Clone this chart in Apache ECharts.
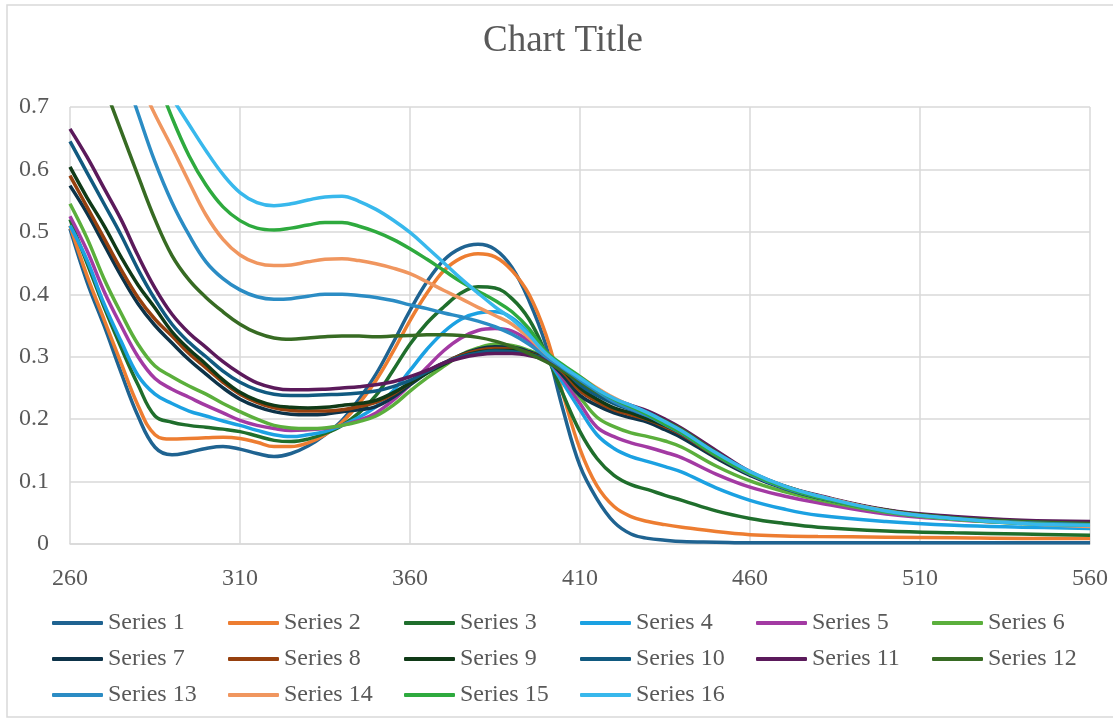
<!DOCTYPE html>
<html><head><meta charset="utf-8">
<script src="https://cdn.jsdelivr.net/npm/echarts@6/dist/echarts.min.js"></script>
<style>html,body{margin:0;padding:0;background:#fff}#c{width:1113px;height:719px}</style>
</head><body><div id="c"></div><script>
const xs=[260,265,270,275,280,285,290,295,300,305,310,315,320,325,330,335,340,345,350,355,360,365,370,375,380,385,390,395,400,405,410,415,420,425,430,435,440,450,460,470,480,500,520,540,560];
const s1=[0.505,0.42,0.35,0.275,0.205,0.155,0.143,0.147,0.153,0.156,0.152,0.145,0.140,0.145,0.157,0.175,0.198,0.232,0.272,0.322,0.374,0.420,0.455,0.474,0.480,0.472,0.443,0.390,0.318,0.215,0.125,0.072,0.035,0.016,0.009,0.006,0.004,0.003,0.002,0.002,0.002,0.002,0.002,0.002,0.002];
const s2=[0.51,0.43,0.36,0.29,0.222,0.175,0.168,0.169,0.170,0.171,0.169,0.163,0.156,0.156,0.162,0.175,0.195,0.225,0.262,0.308,0.358,0.402,0.438,0.458,0.465,0.460,0.438,0.400,0.335,0.240,0.152,0.093,0.060,0.044,0.036,0.031,0.027,0.020,0.015,0.013,0.012,0.011,0.010,0.009,0.009];
const s3=[0.52,0.45,0.38,0.315,0.255,0.205,0.195,0.190,0.187,0.184,0.180,0.173,0.166,0.164,0.168,0.177,0.190,0.210,0.238,0.278,0.320,0.354,0.380,0.402,0.412,0.410,0.393,0.360,0.305,0.240,0.180,0.137,0.110,0.095,0.087,0.078,0.070,0.053,0.041,0.033,0.027,0.021,0.018,0.016,0.014];
const s4=[0.51,0.455,0.385,0.325,0.27,0.24,0.225,0.213,0.205,0.197,0.190,0.182,0.175,0.172,0.175,0.180,0.190,0.203,0.220,0.245,0.278,0.312,0.340,0.360,0.370,0.372,0.362,0.337,0.300,0.258,0.215,0.175,0.153,0.140,0.132,0.124,0.115,0.090,0.070,0.056,0.046,0.036,0.030,0.027,0.025];
const s5=[0.525,0.47,0.405,0.35,0.30,0.265,0.248,0.235,0.222,0.210,0.198,0.190,0.185,0.182,0.183,0.185,0.190,0.198,0.210,0.230,0.255,0.283,0.310,0.330,0.342,0.345,0.341,0.325,0.300,0.265,0.225,0.187,0.172,0.162,0.155,0.147,0.138,0.112,0.091,0.077,0.066,0.048,0.039,0.034,0.032];
const s6=[0.545,0.49,0.425,0.37,0.32,0.285,0.268,0.253,0.240,0.225,0.212,0.200,0.190,0.186,0.185,0.186,0.190,0.196,0.205,0.222,0.245,0.266,0.285,0.303,0.314,0.320,0.318,0.310,0.298,0.270,0.235,0.203,0.188,0.178,0.172,0.165,0.155,0.125,0.101,0.084,0.071,0.051,0.040,0.034,0.031];
const s7=[0.574,0.53,0.48,0.43,0.385,0.35,0.322,0.295,0.272,0.250,0.232,0.220,0.212,0.208,0.207,0.208,0.212,0.215,0.220,0.235,0.255,0.274,0.290,0.303,0.312,0.316,0.315,0.308,0.296,0.270,0.238,0.222,0.210,0.202,0.195,0.183,0.170,0.138,0.110,0.089,0.074,0.053,0.041,0.035,0.033];
const s8=[0.59,0.54,0.49,0.44,0.395,0.36,0.333,0.305,0.282,0.259,0.240,0.227,0.218,0.214,0.213,0.213,0.215,0.220,0.227,0.240,0.258,0.275,0.290,0.302,0.310,0.313,0.312,0.306,0.296,0.275,0.245,0.228,0.215,0.207,0.199,0.188,0.175,0.141,0.112,0.091,0.076,0.054,0.042,0.036,0.033];
const s9=[0.604,0.555,0.51,0.46,0.415,0.378,0.340,0.312,0.288,0.263,0.243,0.230,0.222,0.219,0.218,0.219,0.222,0.225,0.230,0.242,0.258,0.274,0.288,0.300,0.307,0.310,0.310,0.305,0.296,0.278,0.250,0.232,0.218,0.210,0.200,0.190,0.177,0.142,0.113,0.092,0.077,0.054,0.042,0.036,0.034];
const s10=[0.645,0.595,0.545,0.495,0.44,0.392,0.352,0.323,0.300,0.277,0.259,0.247,0.240,0.238,0.238,0.239,0.240,0.242,0.245,0.252,0.262,0.276,0.290,0.300,0.306,0.309,0.308,0.304,0.296,0.280,0.255,0.238,0.225,0.215,0.205,0.193,0.180,0.144,0.114,0.092,0.077,0.054,0.042,0.036,0.034];
const s11=[0.665,0.62,0.57,0.52,0.462,0.41,0.368,0.338,0.315,0.292,0.273,0.258,0.250,0.247,0.247,0.248,0.250,0.252,0.255,0.260,0.268,0.278,0.290,0.298,0.303,0.305,0.305,0.302,0.295,0.282,0.262,0.245,0.232,0.222,0.213,0.200,0.185,0.150,0.116,0.093,0.078,0.055,0.044,0.038,0.036];
const s12=[0.885,0.81,0.735,0.662,0.59,0.52,0.462,0.423,0.395,0.372,0.352,0.338,0.330,0.328,0.330,0.332,0.333,0.333,0.332,0.333,0.334,0.335,0.335,0.334,0.331,0.325,0.316,0.305,0.292,0.277,0.260,0.243,0.230,0.220,0.210,0.197,0.183,0.147,0.115,0.093,0.077,0.054,0.042,0.036,0.033];
const s13=[1.01,0.93,0.85,0.77,0.69,0.612,0.547,0.495,0.452,0.425,0.407,0.396,0.392,0.393,0.397,0.400,0.400,0.398,0.395,0.390,0.383,0.377,0.370,0.364,0.357,0.348,0.336,0.320,0.300,0.282,0.263,0.245,0.228,0.216,0.205,0.191,0.177,0.142,0.112,0.090,0.075,0.052,0.040,0.034,0.031];
const s14=[0.98,0.92,0.86,0.80,0.745,0.688,0.635,0.58,0.527,0.488,0.463,0.450,0.446,0.447,0.452,0.456,0.457,0.454,0.449,0.442,0.433,0.420,0.406,0.393,0.379,0.366,0.352,0.330,0.305,0.285,0.268,0.250,0.234,0.221,0.209,0.194,0.180,0.144,0.115,0.092,0.077,0.053,0.040,0.033,0.028];
const s15=[1.16,1.08,1.0,0.92,0.835,0.755,0.683,0.622,0.575,0.540,0.518,0.506,0.503,0.506,0.511,0.515,0.515,0.509,0.500,0.488,0.473,0.456,0.438,0.420,0.405,0.390,0.372,0.345,0.308,0.287,0.268,0.248,0.232,0.220,0.207,0.192,0.178,0.142,0.113,0.091,0.075,0.052,0.040,0.033,0.030];
const s16=[1.04,0.98,0.92,0.86,0.81,0.76,0.715,0.672,0.630,0.592,0.563,0.547,0.542,0.545,0.551,0.556,0.557,0.549,0.536,0.519,0.499,0.475,0.450,0.425,0.402,0.380,0.360,0.335,0.305,0.284,0.266,0.248,0.233,0.222,0.210,0.196,0.181,0.146,0.116,0.093,0.077,0.053,0.041,0.033,0.030];
const names=['Series 1','Series 2','Series 3','Series 4','Series 5','Series 6','Series 7','Series 8','Series 9','Series 10','Series 11','Series 12','Series 13','Series 14','Series 15','Series 16'];
const colors=['#1F6391','#ED7D31','#1F6E2C','#1BA1E2','#A33AA3','#5BAF3C','#0D3349','#96400E','#103A17','#115A80','#5B1A5B','#376B23','#2B8CC4','#F0965F','#2EAA3E','#38B8EC'];
const allData=[s1,s2,s3,s4,s5,s6,s7,s8,s9,s10,s11,s12,s13,s14,s15,s16];
const FONT='"Liberation Serif","Times New Roman",serif';
const TXT='#595959';
const GRID='#d9d9d9';
const cols=[52,228,404,580,756,932];
const legends=cols.map((left,ci)=>({
  orient:'vertical',left:left,top:609,padding:0,itemWidth:51,itemHeight:4,itemGap:8,icon:'roundRect',selectedMode:false,
  data:[ci,ci+6,ci+12].filter(i=>i<16).map(i=>names[i]),
  textStyle:{fontFamily:FONT,fontSize:24,color:TXT,lineHeight:28}
}));
const chart=echarts.init(document.getElementById('c'),null,{renderer:'canvas'});
chart.setOption({
  animation:false,
  backgroundColor:'#fff',
  title:{text:'Chart Title',left:478,top:18,textStyle:{fontFamily:FONT,fontSize:37,fontWeight:'normal',color:TXT}},
  legend:legends,
  graphic:[{type:'rect',silent:true,shape:{x:7,y:5,width:1130,height:712},style:{fill:null,stroke:GRID,lineWidth:1.5}}],
  grid:{left:70,right:23,top:107,bottom:175,containLabel:false,outerBoundsMode:'none'},
  xAxis:{type:'value',min:260,max:560,interval:50,
    axisLine:{show:true,onZero:false,lineStyle:{color:GRID,width:1.5}},axisTick:{show:false},
    splitLine:{show:true,lineStyle:{color:GRID,width:1.5}},
    axisLabel:{fontFamily:FONT,fontSize:24,color:TXT,margin:23}},
  yAxis:{type:'value',min:0,max:0.7,interval:0.1,
    axisLine:{show:false},axisTick:{show:false},
    splitLine:{show:true,lineStyle:{color:GRID,width:1.5}},
    axisLabel:{fontFamily:FONT,fontSize:24,color:TXT,margin:21,formatter:v=>String(Math.round(v*10)/10)}},
  series:allData.map((arr,k)=>({
    type:'line',name:names[k],data:xs.map((x,i)=>[x,arr[i]]),smooth:0.4,symbol:'none',clip:true,
    lineStyle:{width:3.5,color:colors[k]},itemStyle:{color:colors[k]},emphasis:{disabled:true}
  }))
});
</script></body></html>
